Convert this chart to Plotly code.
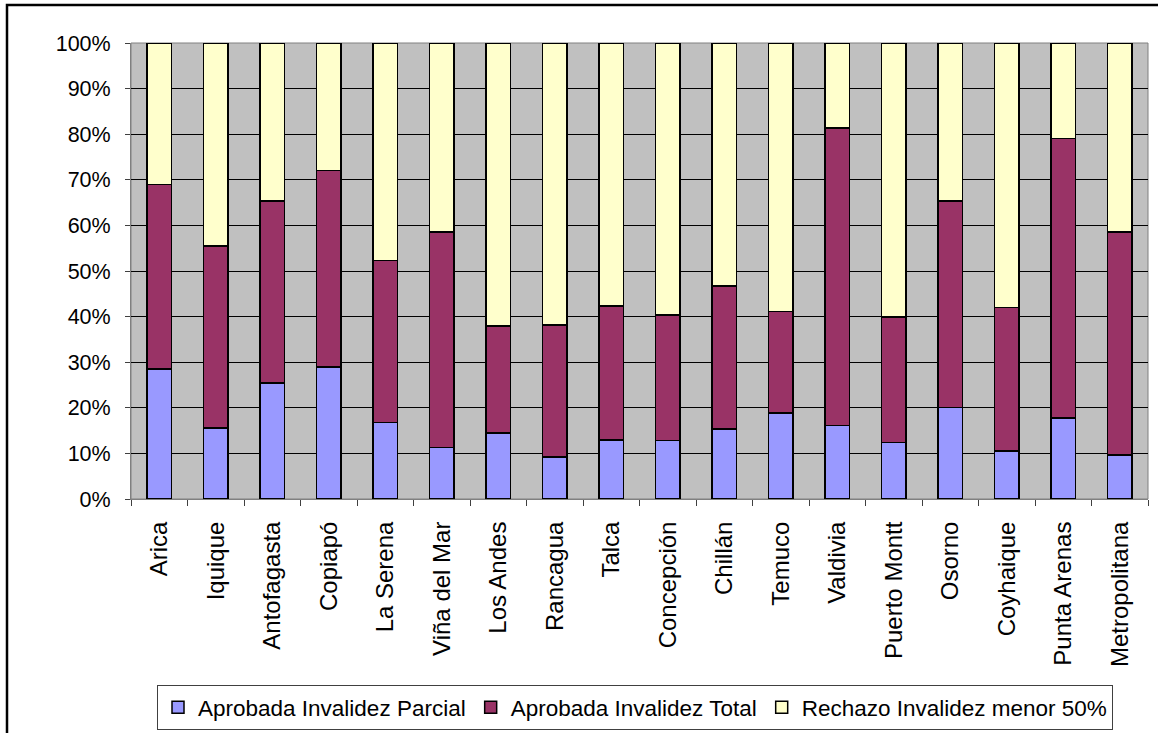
import plotly.graph_objects as go

# Share of disability-claim outcomes per regional commission (%)
regiones = ["Arica", "Iquique", "Antofagasta", "Copiapó", "La Serena", "Viña del Mar",
            "Los Andes", "Rancagua", "Talca", "Concepción", "Chillán", "Temuco",
            "Valdivia", "Puerto Montt", "Osorno", "Coyhaique", "Punta Arenas", "Metropolitana"]
parcial = [28.5, 15.6, 25.4, 29.0, 16.8, 11.3, 14.5, 9.2, 12.9, 12.8, 15.3, 18.9,
           16.1, 12.4, 20.1, 10.5, 17.8, 9.7]
total = [40.5, 39.9, 40.0, 43.0, 35.5, 47.2, 23.4, 29.0, 29.4, 27.5, 31.4, 22.2,
         65.3, 27.5, 45.2, 31.5, 61.3, 48.8]
rechazo = [31.0, 44.5, 34.6, 28.0, 47.7, 41.5, 62.1, 61.8, 57.7, 59.7, 53.3, 58.9,
           18.6, 60.1, 34.7, 58.0, 20.9, 41.5]
series_names = ["Aprobada Invalidez Parcial", "Aprobada Invalidez Total",
                "Rechazo Invalidez menor 50%"]
y_ticks = list(range(0, 101, 10))

colors = ["#9999FF", "#993366", "#FFFFCC"]
FONT = "Liberation Sans, Arial, sans-serif"

fig = go.Figure()
for name, vals, col in zip(series_names, [parcial, total, rechazo], colors):
    fig.add_trace(go.Bar(
        x=regiones, y=vals, name=name,
        marker=dict(color=col, line=dict(color="black", width=1.5)),
    ))

# plot area in pixels: x 131..1148, y 43..499
L, R, T, B = 131, 1148, 43, 499
W, H = 1158, 733
pw, ph = R - L, B - T

def px(x):
    return (x - L) / pw

def py(y):
    return (B - y) / ph

fig.update_layout(
    width=W, height=H,
    margin=dict(l=L, r=W - R, t=T, b=H - B, pad=0, autoexpand=False),
    barmode="stack", bargap=0.575,
    paper_bgcolor="white", plot_bgcolor="#C0C0C0",
    font=dict(family=FONT, size=22, color="black"),
    showlegend=True,
    legend=dict(
        orientation="h", x=px(157), y=py(685), xanchor="left", yanchor="top",
        bordercolor="#404040", borderwidth=1, bgcolor="white",
        font=dict(family=FONT, size=22.5, color="black"),
        traceorder="normal", itemwidth=30,
    ),
    xaxis=dict(
        type="category", tickangle=-90, tickson="boundaries",
        ticks="outside", ticklen=6, tickcolor="#404040", tickwidth=1,
        showgrid=False, showline=True, linecolor="#808080", linewidth=1,
        tickfont=dict(family=FONT, size=24, color="black"),
        ticklabelstandoff=12, automargin=False,
    ),
    yaxis=dict(
        range=[0, 100], tickvals=y_ticks, ticktext=[f"{v}%" for v in y_ticks],
        ticks="outside", ticklen=5, tickcolor="#404040", tickwidth=1,
        showgrid=True, gridcolor="black", gridwidth=1,
        showline=True, linecolor="#808080", linewidth=1,
        tickfont=dict(family=FONT, size=21.5, color="black"),
        ticklabelstandoff=10, automargin=False,
        zeroline=False,
    ),
    shapes=[
        # outer chart frame (cropped at right and bottom)
        dict(type="rect", xref="paper", yref="paper",
             x0=px(7), x1=px(1170), y0=py(745), y1=py(5),
             line=dict(color="black", width=2.5), fillcolor="rgba(0,0,0,0)",
             layer="above"),
        # plot-area border
        dict(type="rect", xref="paper", yref="paper", x0=0, x1=1, y0=0, y1=1,
             line=dict(color="#808080", width=1), fillcolor="rgba(0,0,0,0)",
             layer="below"),
    ],
)

fig.write_html("out.html")
